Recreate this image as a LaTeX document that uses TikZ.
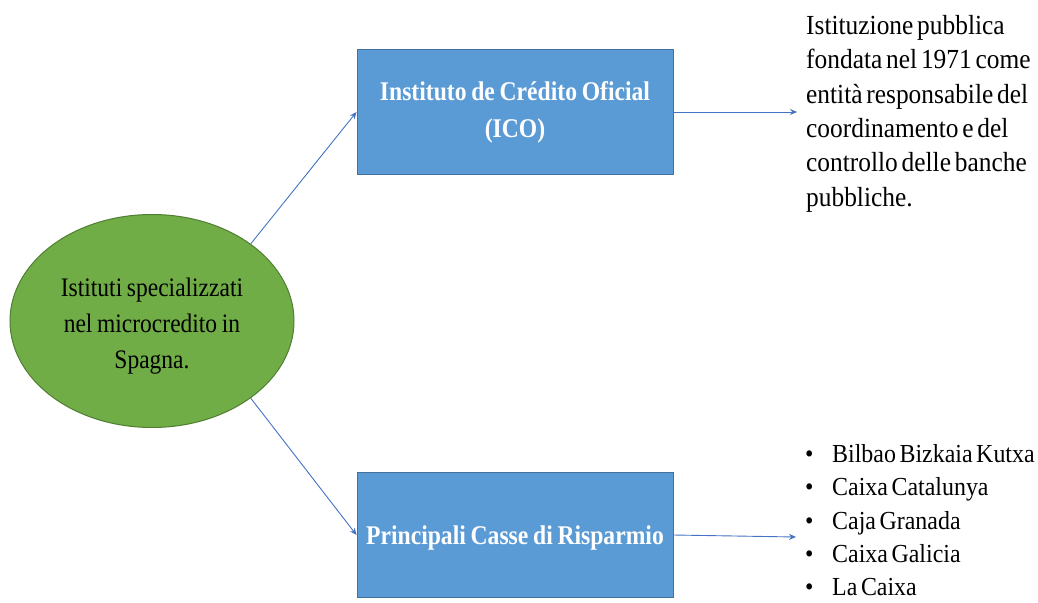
\documentclass[tikz,border=0pt]{standalone}
\usepackage{fontspec}
\setmainfont{Liberation Serif}[FakeStretch=0.92, WordSpace=0.6]
\newfontfamily\boxfont{Liberation Serif}[FakeStretch=0.875, WordSpace=0.8]
\newfontfamily\ellfont{Liberation Serif}[FakeStretch=0.88, WordSpace=0.8]
\usetikzlibrary{shapes.geometric,arrows.meta}
\definecolor{boxfill}{HTML}{5B9BD5}
\definecolor{boxline}{HTML}{41719C}
\definecolor{ellfill}{HTML}{70AD47}
\definecolor{ellline}{HTML}{507E32}
\definecolor{arrowc}{HTML}{4472C4}
\tikzset{
  bluebox/.style={draw=boxline, line width=1pt, fill=boxfill, rectangle,
    minimum width=316pt, minimum height=125pt, inner sep=0pt,
    text=white, align=center, font=\boxfont\fontsize{27}{37}\selectfont\bfseries},
  greenell/.style={draw=ellline, line width=1pt, fill=ellfill, ellipse,
    minimum width=284pt, minimum height=213pt, inner sep=0pt,
    text=black, align=center, font=\ellfont\fontsize{26.7}{36}\selectfont},
  desc/.style={inner sep=0pt, align=left, text=black},
  conn/.style={draw=arrowc, line width=0.9pt, -{Stealth[length=7pt,width=6pt]}}
}
\begin{document}
\begin{tikzpicture}[x=1pt,y=-1pt]
\useasboundingbox (0,0) rectangle (1038,602);
\node[greenell] (e) at (152,321) {\rule{0pt}{28pt}Istituti specializzati\\nel microcredito in\\Spagna.};
\node[bluebox] (ico) at (515,112) {Instituto de Crédito Oficial\\(ICO)};
\node[bluebox, text depth=0pt] (casse) at (515,535) {Principali Casse di Risparmio};
\node[desc, anchor=north west, font=\fontsize{27.6}{34.4}\selectfont] (info) at (806,15)
  {Istituzione pubblica\\fondata nel 1971 come\\entità responsabile del\\coordinamento e del\\controllo delle banche\\pubbliche.};
\node[desc, anchor=north west, font=\fontsize{26}{33.4}\selectfont] (list) at (805,444)
  {\makebox[27pt][l]{•}Bilbao Bizkaia Kutxa\\
   \makebox[27pt][l]{•}Caixa Catalunya\\
   \makebox[27pt][l]{•}Caja Granada\\
   \makebox[27pt][l]{•}Caixa Galicia\\
   \makebox[27pt][l]{•}La Caixa};
\coordinate (infoin) at (797,112);
\coordinate (listin) at (796,537);
\draw[conn] (e.38) -- (ico.west);
\draw[conn] (e.-38) -- (casse.west);
\draw[conn] (ico.east) -- (infoin);
\draw[conn] (casse.east) -- (listin);
\end{tikzpicture}
\end{document}
